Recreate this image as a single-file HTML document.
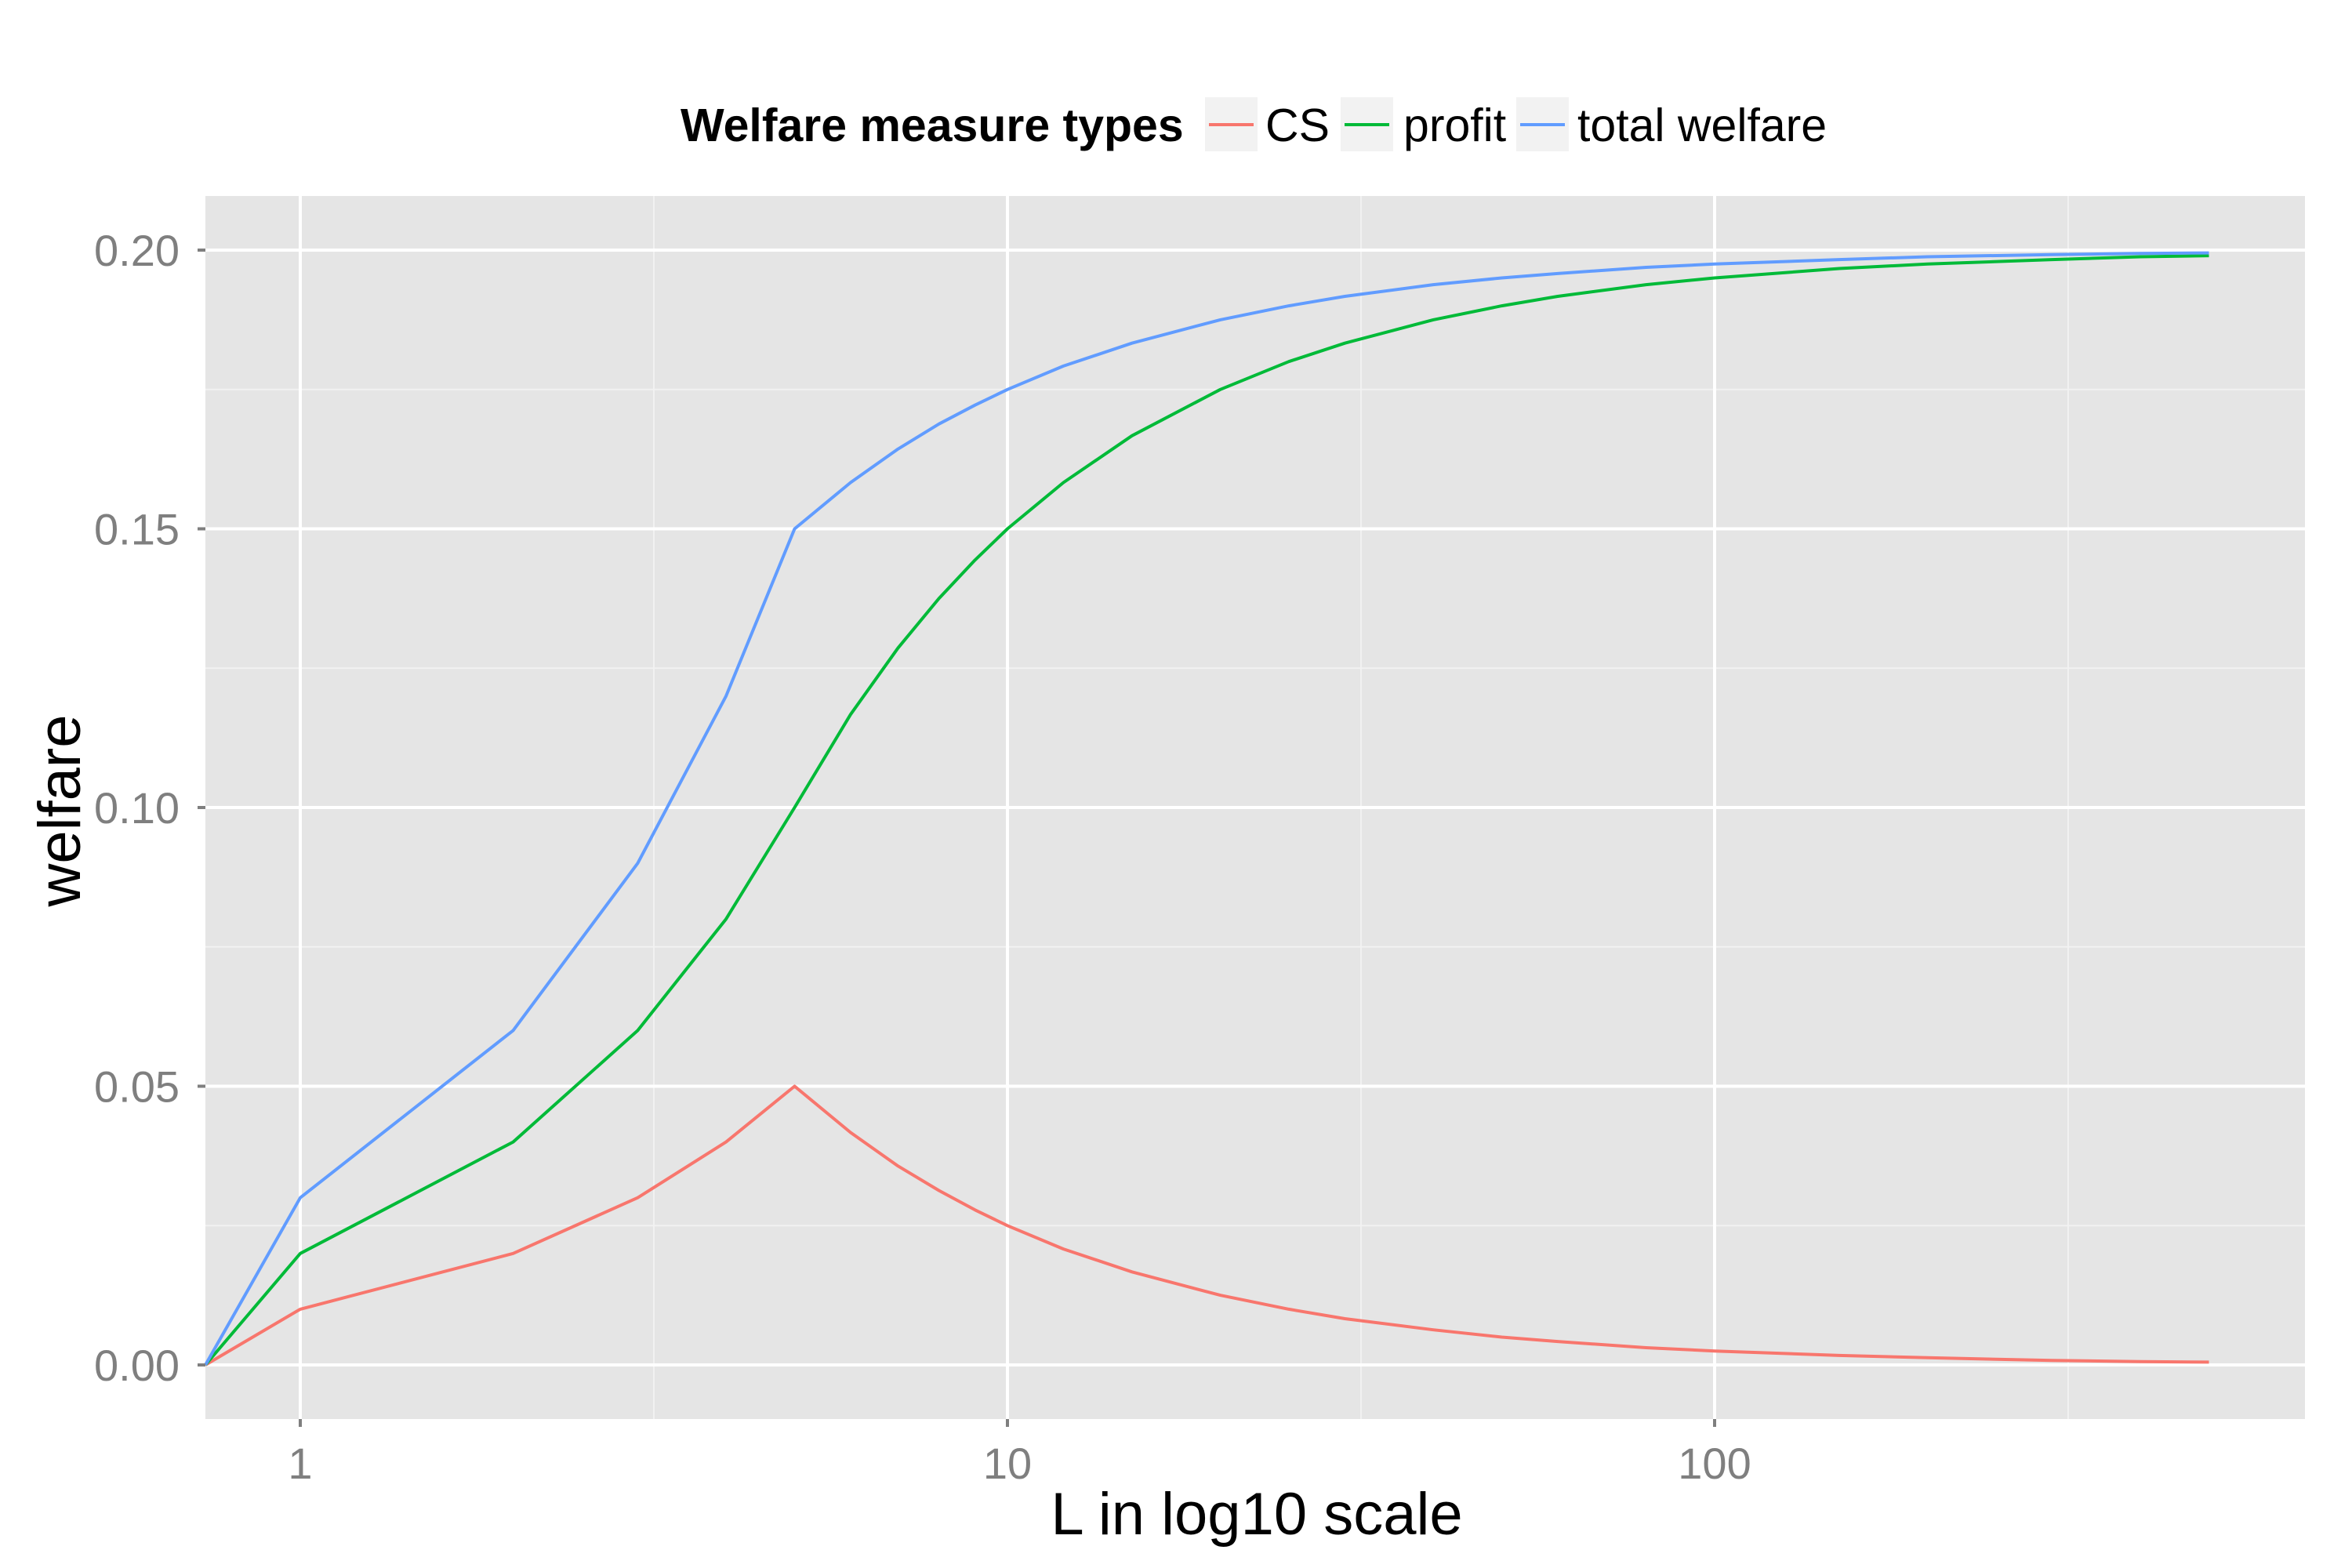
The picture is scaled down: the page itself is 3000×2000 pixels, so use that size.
<!DOCTYPE html>
<html><head><meta charset="utf-8"><style>
html,body{margin:0;padding:0;background:#fff;}
svg{display:block;font-family:"Liberation Sans",Arial,sans-serif;}
</style></head><body>
<svg id="chart" width="3000" height="2000" viewBox="0 0 3000 2000">
<rect x="262" y="250" width="2678" height="1560" fill="#e5e5e5"/>
<g id="grid"></g>
<g id="series"></g>
<g id="axes"></g>
<text x="1603" y="1957" font-size="76" text-anchor="middle" fill="#000">L in log10 scale</text>
<text transform="translate(102,1034) rotate(-90)" font-size="76" text-anchor="middle" fill="#000">welfare</text>
<g>
<text x="868" y="180" font-size="59" font-weight="bold" fill="#000">Welfare measure types</text>
<g><rect x="1537" y="124" width="67" height="69" fill="#f2f2f2"/><line x1="1542" x2="1599" y1="159" y2="159" stroke="#F8766D" stroke-width="4"/><text x="1614" y="180" font-size="59">CS</text></g>
<g><rect x="1710" y="124" width="67" height="69" fill="#f2f2f2"/><line x1="1715" x2="1772" y1="159" y2="159" stroke="#00BA38" stroke-width="4"/><text x="1790" y="180" font-size="59">profit</text></g>
<g><rect x="1934" y="124" width="67" height="69" fill="#f2f2f2"/><line x1="1939" x2="1996" y1="159" y2="159" stroke="#619CFF" stroke-width="4"/><text x="2012" y="180" font-size="59">total welfare</text></g>
</g>
</svg>
<script>
const Lvals = [0,1,2,3,4,5,6,7,8,9,10,12,15,20,25,30,40,50,60,80,100,150,200,300,400,500];
const csVals = [0,0.01,0.02,0.03,0.04,0.05,0.0417,0.0357,0.0313,0.0278,0.025,0.0208,0.0167,0.0125,0.01,0.0083,0.0063,0.005,0.0042,0.0031,0.0025,0.0017,0.0013,0.0008,0.0006,0.0005];
const profitVals = [0,0.02,0.04,0.06,0.08,0.10,0.1167,0.1286,0.1375,0.1444,0.15,0.1583,0.1667,0.175,0.18,0.1833,0.1875,0.19,0.1917,0.1938,0.195,0.1967,0.1975,0.1983,0.1988,0.199];
const totalVals = [0,0.03,0.06,0.09,0.12,0.15,0.1583,0.1643,0.1688,0.1722,0.175,0.1792,0.1833,0.1875,0.19,0.1917,0.1938,0.195,0.1958,0.1969,0.1975,0.1983,0.1988,0.1992,0.1994,0.1995];
const xTicks = [1,10,100];
const xTickLabels = ["1","10","100"];
const xMinor = [0.316,3.162,31.62,316.2];
const yTicks = [0,0.05,0.10,0.15,0.20];
const yTickLabels = ["0.00","0.05","0.10","0.15","0.20"];
const yMinor = [0.025,0.075,0.125,0.175];

const PL=262,PR=2940,PT=250,PB=1810;
function xs(v){ if(v<=0) return PL; return 383 + Math.log10(v)*902; }
function ys(v){ return 1741 - v*(1741-319)/0.2; }
const NS="http://www.w3.org/2000/svg";
function mk(tag,attrs,parent){const e=document.createElementNS(NS,tag);for(const k in attrs)e.setAttribute(k,attrs[k]);parent.appendChild(e);return e;}
const grid=document.getElementById('grid'), axes=document.getElementById('axes'), series=document.getElementById('series');
xMinor.forEach(v=>{const x=xs(v); if(x<PL||x>PR)return;
  const l=mk('line',{x1:x,x2:x,y1:PT,y2:PB,stroke:'#f2f2f2','stroke-width':2},grid);
  
  });
yMinor.forEach(v=>{const y=ys(v);
  const l=mk('line',{x1:PL,x2:PR,y1:y,y2:y,stroke:'#f2f2f2','stroke-width':2},grid);
  
  });
xTicks.forEach((v,i)=>{const x=xs(v);
  const l=mk('line',{x1:x,x2:x,y1:PT,y2:PB,stroke:'#fff','stroke-width':4},grid);
  
  
  mk('line',{x1:x,x2:x,y1:PB,y2:PB+10,stroke:'#7f7f7f','stroke-width':4},axes);
  const t=mk('text',{x:x,y:1886,'font-size':56,'text-anchor':'middle',fill:'#7f7f7f'},axes);
  t.textContent=xTickLabels[i];
  
  });
yTicks.forEach((v,i)=>{const y=ys(v);
  const l=mk('line',{x1:PL,x2:PR,y1:y,y2:y,stroke:'#fff','stroke-width':4},grid);
  
  
  mk('line',{x1:PL-10,x2:PL,y1:y,y2:y,stroke:'#7f7f7f','stroke-width':4},axes);
  const t=mk('text',{x:229,y:y+20,'font-size':56,'text-anchor':'end',fill:'#7f7f7f'},axes);
  t.textContent=yTickLabels[i];
  
  });
function drawLine(vals,color,name){
  const pts=Lvals.map((L,i)=>xs(L).toFixed(1)+','+ys(vals[i]).toFixed(1)).join(' ');
  const p=mk('polyline',{points:pts,fill:'none',stroke:color,'stroke-width':4,'stroke-linejoin':'round'},series);
  
  
}
drawLine(csVals,'#F8766D','cs-line');
drawLine(profitVals,'#00BA38','profit-line');
drawLine(totalVals,'#619CFF','total-welfare-line');
</script>
</body></html>
